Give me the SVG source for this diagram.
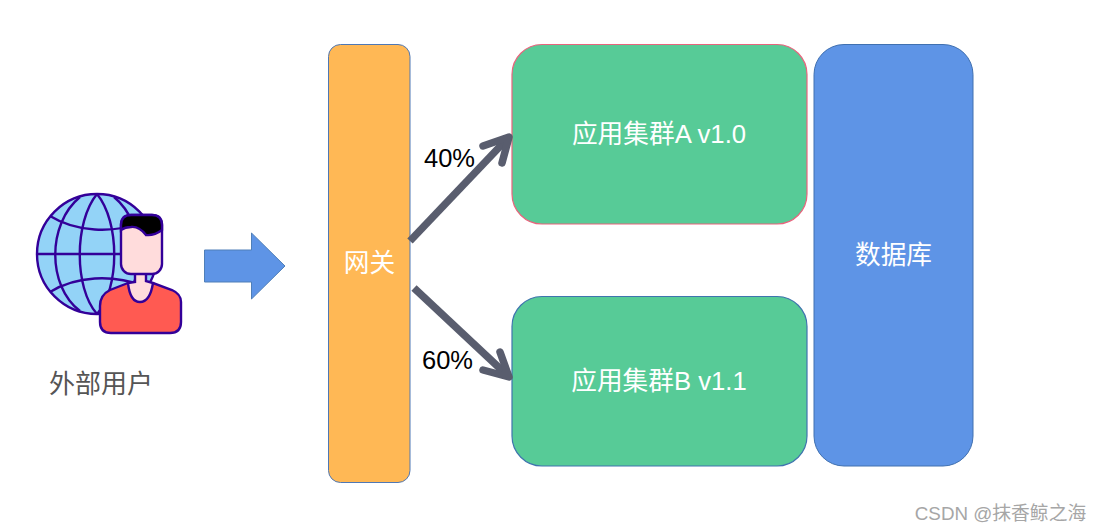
<svg xmlns="http://www.w3.org/2000/svg" width="1101" height="532" viewBox="0 0 1101 532">
<style>
text{font-family:"Liberation Sans","Noto Sans CJK SC",sans-serif}
.w{fill:#fff;font-size:25.700px;text-anchor:middle}
.p{fill:#000;font-size:25.500px;text-anchor:middle}
.g{fill:none;stroke:#330099;stroke-width:2.400}
.c{fill:none;stroke:#595d6e;stroke-width:7.500}
.i{stroke:#330099;stroke-width:2.400}
</style>
<rect width="1101" height="532" fill="#fff"/>
<g id="user">
<circle cx="97" cy="254" r="60" fill="#93d3f7" class="i"/>
<path class="g" d="M37 254H157M97 194C74 222 74 288 97 314M97 194C120 222 120 288 97 314"/>
<path class="g" d="M80 197C47 224 47 286 80 311M114 197C147 224 147 286 114 311"/>
<path class="g" d="M50 216C76 232 112 234 144 222M50 292C76 276 112 274 144 286"/>
<path class="i" fill="#ff5a52" d="M128 283L110 290Q100 295 100 306V322Q100 333 111 333H170Q181 333 181 322V302Q181 294 172 290L153 283Z"/>
<path class="i" fill="#ffdcdc" d="M128 283Q130 302 140 302Q150 302 153 283L146 281V270H135V282Z"/>
<rect x="121" y="215" width="41" height="59" rx="10" fill="#ffdcdc" class="i"/>
<path class="i" fill="#000" d="M121 230V225Q121 215 131 215H152Q162 215 162 225V230Q154 236 146 235Q139 226 131 227Q125 227 121 230Z"/>
</g>
<path id="arrow" d="M204.500 250H251.500V233L285 266L251.500 299V282H204.500Z" fill="#5e94e6" stroke="#4f7fb8" stroke-width="1"/>
<g id="gateway">
<rect x="328.500" y="44.500" width="81.500" height="438" rx="12" fill="#ffb855" stroke="#4f78b5" stroke-width="1"/>
<text class="w" x="369.500" y="272">网关</text>
</g>
<g id="clusterA">
<rect x="512" y="44.500" width="295" height="179.500" rx="30" fill="#57cb97" stroke="#e8647d" stroke-width="1.200"/>
<text class="w" x="659" y="143">应用集群A v1.0</text>
</g>
<g id="clusterB">
<rect x="512" y="296.500" width="295" height="169.500" rx="30" fill="#57cb97" stroke="#3f74ae" stroke-width="1.200"/>
<text class="w" x="659" y="390">应用集群B v1.1</text>
</g>
<g id="database">
<rect x="814" y="44.500" width="159" height="421.500" rx="30" fill="#5e94e6" stroke="#4070b0" stroke-width="1"/>
<text class="w" x="893.500" y="264">数据库</text>
</g>
<g id="connectors">
<path class="c" d="M410 241L508 138"/>
<path class="c" stroke-linecap="round" stroke-linejoin="round" d="M483 146L509 137L502 163"/>
<path class="c" d="M414 288L508 376"/>
<path class="c" stroke-linecap="round" stroke-linejoin="round" d="M500 352L509 377L483 370"/>
</g>
<text class="p" x="449.500" y="167">40%</text>
<text class="p" x="447.500" y="369">60%</text>
<text x="101" y="393" fill="#555" font-size="26" text-anchor="middle">外部用户</text>
<text x="1000.500" y="520" fill="#a6a6a6" font-size="18.800" text-anchor="middle">CSDN @抹香鲸之海</text>
</svg>
